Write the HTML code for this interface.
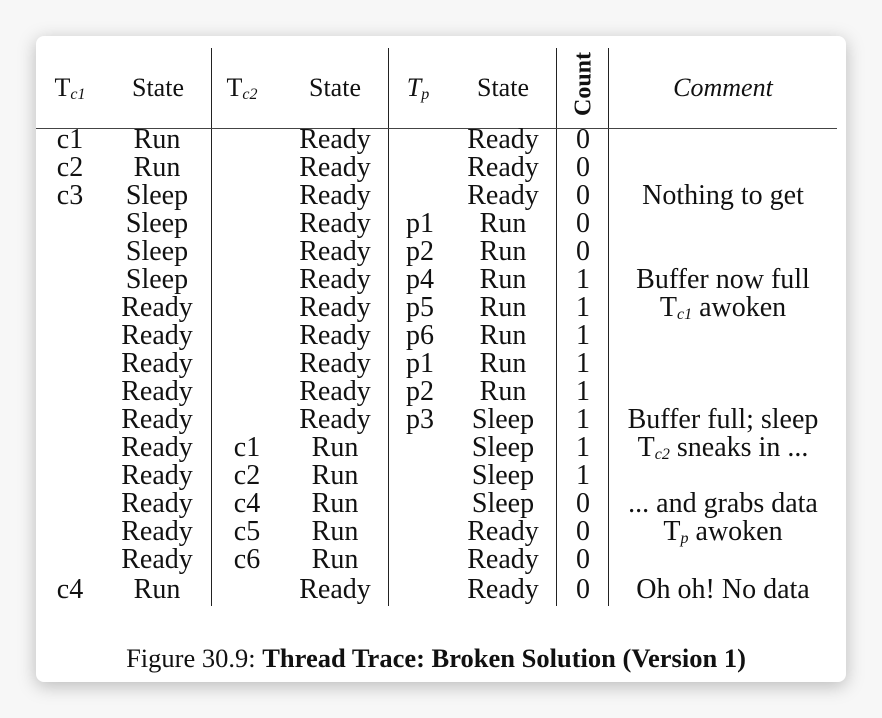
<!DOCTYPE html>
<html><head><style>
body{margin:0;width:882px;height:718px;background:#f7f7f7;overflow:hidden;position:relative;font-family:"Liberation Serif",serif;color:#111}
.card{position:absolute;left:36px;top:36px;width:810px;height:646px;background:#fff;border-radius:8px;box-shadow:0 4px 18px rgba(0,0,0,0.25)}
.v{position:absolute;top:48px;height:558px;width:1.3px;background:#222}
.h{position:absolute;left:36px;top:128px;width:801px;height:1.3px;background:#444}
.t{position:absolute;transform:translateX(-50%);white-space:nowrap;font-size:28px;line-height:28px}
.hd{position:absolute;transform:translateX(-50%);white-space:nowrap;font-size:26px;line-height:28px;top:74px}
sub{font-size:16px;font-style:italic;vertical-align:-3px}
</style></head><body>
<div class="card"></div>
<div class="v" style="left:211px"></div>
<div class="v" style="left:388px"></div>
<div class="v" style="left:556px"></div>
<div class="v" style="left:608px"></div>
<div class="h"></div>
<div class="hd" style="left:70px">T<sub>c1</sub></div>
<div class="hd" style="left:158px">State</div>
<div class="hd" style="left:242px">T<sub>c2</sub></div>
<div class="hd" style="left:335px">State</div>
<div class="hd" style="left:418px"><i>T<sub>p</sub></i></div>
<div class="hd" style="left:503px">State</div>
<div style="position:absolute;left:584px;top:84px;transform:translate(-50%,-50%) rotate(-90deg);font-size:24px;font-weight:bold;white-space:nowrap">Count</div>
<div class="hd" style="left:723px"><i>Comment</i></div>

<div class="t" style="left:70px;top:126px">c1</div><div class="t" style="left:157px;top:126px">Run</div><div class="t" style="left:335px;top:126px">Ready</div><div class="t" style="left:503px;top:126px">Ready</div><div class="t" style="left:583px;top:126px">0</div>
<div class="t" style="left:70px;top:154px">c2</div><div class="t" style="left:157px;top:154px">Run</div><div class="t" style="left:335px;top:154px">Ready</div><div class="t" style="left:503px;top:154px">Ready</div><div class="t" style="left:583px;top:154px">0</div>
<div class="t" style="left:70px;top:182px">c3</div><div class="t" style="left:157px;top:182px">Sleep</div><div class="t" style="left:335px;top:182px">Ready</div><div class="t" style="left:503px;top:182px">Ready</div><div class="t" style="left:583px;top:182px">0</div><div class="t" style="left:723px;top:182px">Nothing to get</div>
<div class="t" style="left:157px;top:210px">Sleep</div><div class="t" style="left:335px;top:210px">Ready</div><div class="t" style="left:420px;top:210px">p1</div><div class="t" style="left:503px;top:210px">Run</div><div class="t" style="left:583px;top:210px">0</div>
<div class="t" style="left:157px;top:238px">Sleep</div><div class="t" style="left:335px;top:238px">Ready</div><div class="t" style="left:420px;top:238px">p2</div><div class="t" style="left:503px;top:238px">Run</div><div class="t" style="left:583px;top:238px">0</div>
<div class="t" style="left:157px;top:266px">Sleep</div><div class="t" style="left:335px;top:266px">Ready</div><div class="t" style="left:420px;top:266px">p4</div><div class="t" style="left:503px;top:266px">Run</div><div class="t" style="left:583px;top:266px">1</div><div class="t" style="left:723px;top:266px">Buffer now full</div>
<div class="t" style="left:157px;top:294px">Ready</div><div class="t" style="left:335px;top:294px">Ready</div><div class="t" style="left:420px;top:294px">p5</div><div class="t" style="left:503px;top:294px">Run</div><div class="t" style="left:583px;top:294px">1</div><div class="t" style="left:723px;top:294px">T<sub>c1</sub> awoken</div>
<div class="t" style="left:157px;top:322px">Ready</div><div class="t" style="left:335px;top:322px">Ready</div><div class="t" style="left:420px;top:322px">p6</div><div class="t" style="left:503px;top:322px">Run</div><div class="t" style="left:583px;top:322px">1</div>
<div class="t" style="left:157px;top:350px">Ready</div><div class="t" style="left:335px;top:350px">Ready</div><div class="t" style="left:420px;top:350px">p1</div><div class="t" style="left:503px;top:350px">Run</div><div class="t" style="left:583px;top:350px">1</div>
<div class="t" style="left:157px;top:378px">Ready</div><div class="t" style="left:335px;top:378px">Ready</div><div class="t" style="left:420px;top:378px">p2</div><div class="t" style="left:503px;top:378px">Run</div><div class="t" style="left:583px;top:378px">1</div>
<div class="t" style="left:157px;top:406px">Ready</div><div class="t" style="left:335px;top:406px">Ready</div><div class="t" style="left:420px;top:406px">p3</div><div class="t" style="left:503px;top:406px">Sleep</div><div class="t" style="left:583px;top:406px">1</div><div class="t" style="left:723px;top:406px">Buffer full; sleep</div>
<div class="t" style="left:157px;top:434px">Ready</div><div class="t" style="left:247px;top:434px">c1</div><div class="t" style="left:335px;top:434px">Run</div><div class="t" style="left:503px;top:434px">Sleep</div><div class="t" style="left:583px;top:434px">1</div><div class="t" style="left:723px;top:434px">T<sub>c2</sub> sneaks in ...</div>
<div class="t" style="left:157px;top:462px">Ready</div><div class="t" style="left:247px;top:462px">c2</div><div class="t" style="left:335px;top:462px">Run</div><div class="t" style="left:503px;top:462px">Sleep</div><div class="t" style="left:583px;top:462px">1</div>
<div class="t" style="left:157px;top:490px">Ready</div><div class="t" style="left:247px;top:490px">c4</div><div class="t" style="left:335px;top:490px">Run</div><div class="t" style="left:503px;top:490px">Sleep</div><div class="t" style="left:583px;top:490px">0</div><div class="t" style="left:723px;top:490px">... and grabs data</div>
<div class="t" style="left:157px;top:518px">Ready</div><div class="t" style="left:247px;top:518px">c5</div><div class="t" style="left:335px;top:518px">Run</div><div class="t" style="left:503px;top:518px">Ready</div><div class="t" style="left:583px;top:518px">0</div><div class="t" style="left:723px;top:518px">T<sub>p</sub> awoken</div>
<div class="t" style="left:157px;top:546px">Ready</div><div class="t" style="left:247px;top:546px">c6</div><div class="t" style="left:335px;top:546px">Run</div><div class="t" style="left:503px;top:546px">Ready</div><div class="t" style="left:583px;top:546px">0</div>
<div class="t" style="left:70px;top:576px">c4</div><div class="t" style="left:157px;top:576px">Run</div><div class="t" style="left:335px;top:576px">Ready</div><div class="t" style="left:503px;top:576px">Ready</div><div class="t" style="left:583px;top:576px">0</div><div class="t" style="left:723px;top:576px">Oh oh! No data</div>

<div class="t" style="left:436px;top:644px;font-size:26.5px">Figure 30.9: <b>Thread Trace: Broken Solution (Version 1)</b></div>
</body></html>
